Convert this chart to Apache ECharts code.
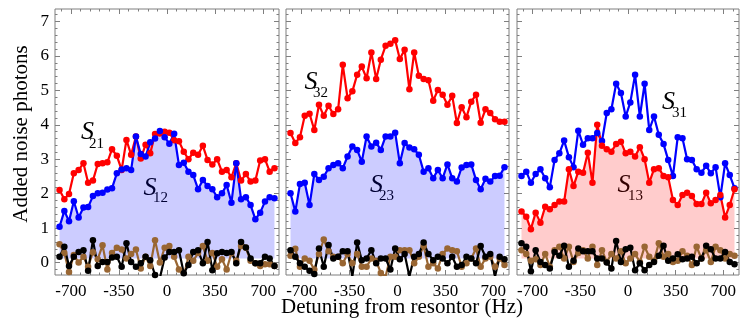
<!DOCTYPE html>
<html><head><meta charset="utf-8">
<script src="https://cdn.jsdelivr.net/npm/echarts@6/dist/echarts.min.js"></script>
<style>html,body{margin:0;padding:0;background:#fff}#c{width:740px;height:322px}</style>
</head><body><div id="c"></div>
<script>
// Detuning (Hz) of each measured point, shared by all three panels
const detuning = [-782,-747,-713,-678,-643,-608,-574,-539,-504,-469,-434,-400,-365,-330,-295,-261,-226,-191,-156,-122,-87,-52,-17,17,52,87,122,156,191,226,261,295,330,365,400,434,469,504,539,574,608,643,678,713,747,782];

// Panel 1
const s21 = [2.11,1.84,1.99,2.59,2.69,2.88,2.32,2.38,2.86,2.88,2.91,3.29,3.10,2.69,3.56,3.13,3.66,3.02,3.42,3.17,3.73,3.75,3.80,3.77,3.55,3.52,3.22,3.00,3.19,3.13,3.39,2.98,2.85,3.00,2.64,2.69,2.48,2.88,2.38,2.57,2.35,2.38,2.96,3.00,2.64,2.74];
const s12 = [1.04,1.50,1.20,1.78,1.31,1.60,1.61,1.93,2.01,2.03,2.12,2.16,2.59,2.70,2.74,2.69,3.66,3.15,3.08,3.49,3.60,3.82,3.64,3.45,3.74,2.83,2.90,2.64,2.54,2.13,2.40,2.22,2.13,1.90,2.01,2.25,1.74,2.88,1.84,1.90,1.67,1.26,1.45,1.77,1.90,1.87];
const black1 = [0.17,0.46,-0.10,0.17,0.31,0.36,-0.24,0.65,-0.10,0.02,0.02,0.15,0.17,-0.12,0.56,0.02,-0.12,-0.02,0.17,0.07,-0.36,-0.45,0.15,0.31,0.31,0.36,-0.31,-0.07,0.31,0.36,-0.02,0.60,-0.22,0.27,0.31,0.28,0.31,-0.02,0.60,0.44,0.12,-0.02,-0.02,0.17,0.12,-0.10];
const brown1 = [0.53,0.28,-0.27,0.22,0.00,0.17,-0.12,0.30,0.10,0.50,-0.20,0.28,0.43,0.38,0.12,0.25,0.38,-0.17,0.17,-0.10,0.65,0.00,0.43,0.48,0.17,-0.20,-0.40,0.17,0.05,0.28,0.48,0.05,0.28,-0.12,0.10,-0.20,0.28,0.05,0.48,0.43,0.05,-0.02,-0.10,-0.05,-0.05,-0.10];

// Panel 2
const s32 = [3.76,3.47,3.64,4.26,4.32,3.85,4.58,4.26,4.55,4.31,4.45,5.74,4.77,4.97,5.45,5.69,5.35,6.10,5.33,5.89,6.29,6.35,6.45,5.91,6.18,5.03,6.10,5.42,5.33,5.29,4.70,5.01,4.87,4.58,4.84,4.05,4.51,4.22,4.67,4.87,4.06,4.45,4.34,4.16,4.09,4.09];
const s23 = [2.01,1.48,2.28,2.32,1.67,2.57,2.40,2.49,2.74,2.83,2.88,2.74,3.08,3.37,3.27,2.93,3.66,3.37,3.48,3.27,3.66,3.66,3.77,2.88,3.47,3.34,3.29,3.13,2.64,2.74,2.45,2.69,2.45,2.85,2.45,2.35,2.76,2.83,2.85,2.40,2.13,2.43,2.35,2.51,2.52,2.77];
const black2 = [0.36,0.17,-0.02,-0.12,-0.24,-0.33,0.41,-0.12,0.51,0.12,0.17,0.33,0.33,-0.40,0.58,0.07,0.12,0.36,-0.02,0.12,0.12,-0.20,0.41,0.10,0.25,-0.40,0.17,0.25,0.58,0.25,0.07,0.17,0.12,-0.02,0.17,-0.12,-0.07,0.17,0.12,-0.02,0.48,0.17,0.25,-0.40,0.17,0.10];
const brown2 = [0.20,0.40,-0.12,0.12,0.05,-0.20,0.25,0.67,0.33,0.17,0.17,-0.02,0.25,-0.02,0.25,-0.12,-0.12,0.12,0.05,-0.30,-0.40,0.17,0.17,0.36,0.36,0.36,-0.02,0.17,0.48,-0.12,-0.02,-0.17,0.25,0.41,0.36,0.33,-0.12,-0.02,0.12,0.41,-0.12,0.12,0.17,-0.12,0.12,-0.07];

// Panel 3
const s31 = [2.51,2.64,2.32,2.57,2.71,2.45,2.19,2.98,3.17,3.54,3.06,2.77,3.83,3.42,3.61,3.61,3.76,3.53,4.34,4.45,5.19,4.92,4.24,4.65,5.45,4.24,5.19,3.85,4.24,3.71,3.44,2.98,2.51,3.64,3.61,3.00,2.98,2.71,2.61,2.81,2.59,2.77,1.90,2.88,2.54,2.16];
const s13 = [1.48,1.33,0.97,1.45,1.16,1.62,1.55,1.67,1.77,1.77,2.71,2.22,2.64,2.61,3.19,2.32,4.00,3.39,3.29,3.22,3.44,3.51,3.17,3.22,3.08,3.35,3.00,2.32,2.71,2.74,2.51,2.48,1.82,1.67,1.96,2.03,1.93,1.70,1.70,2.03,1.72,1.82,1.96,1.31,1.67,2.13];
const black3 = [0.56,0.46,-0.25,0.36,0.02,-0.07,-0.17,0.31,0.20,0.49,-0.12,0.05,0.41,0.33,0.33,0.33,0.12,0.12,0.00,-0.17,0.63,0.02,0.39,0.43,-0.22,-0.02,-0.22,-0.07,0.02,0.20,0.49,0.05,0.12,0.24,0.10,0.12,0.17,-0.02,0.12,0.49,0.39,0.12,0.12,0.31,0.02,-0.05];
const brown3 = [0.36,0.25,0.05,0.10,-0.07,0.25,-0.12,0.36,0.46,0.12,0.46,0.02,0.28,0.36,0.12,0.46,-0.07,0.36,0.02,0.25,0.12,0.33,-0.02,0.12,0.25,0.02,0.46,0.17,0.05,0.56,0.17,0.25,0.02,0.05,0.33,0.20,-0.07,0.46,0.12,0.36,0.02,0.46,0.36,0.12,0.25,0.20];

// Tick labels
const xTicks = [-700,-350,0,350,700];
const yTicks = [0,1,2,3,4,5,6,7];
const fillBase = 0.12;

const xMinor = [];
for (let v = -770; v <= 770; v += 70) if (xTicks.indexOf(v) < 0) xMinor.push(v);
const yMinor = [];
for (let k = -1; k <= 36; k++) { if (k % 5 !== 0) yMinor.push(+(k * 0.2).toFixed(2)); }

const panels = [
  {left:55, width:224, black:black1, brown:brown1, lines:[{d:s21,c:'#ff0000'},{d:s12,c:'#0000ff'}], fill:{d:s12,c:'rgba(0,0,255,0.2)'}},
  {left:286, width:223, black:black2, brown:brown2, lines:[{d:s32,c:'#ff0000'},{d:s23,c:'#0000ff'}], fill:{d:s23,c:'rgba(0,0,255,0.2)'}},
  {left:517, width:222, black:black3, brown:brown3, lines:[{d:s31,c:'#0000ff'},{d:s13,c:'#ff0000'}], fill:{d:s13,c:'rgba(255,0,0,0.2)'}}
];
const TOP = 9, H = 266;
const xMin = -815, xMax = 815, yMin = -0.36, yMax = 7.36;
const frame = '#7f7f7f';
const serif = 'Liberation Serif';

const option = {animation:false, grid:[], xAxis:[], yAxis:[], series:[], graphic:{elements:[]}};
const pairs = arr => detuning.map((x, k) => [x, arr[k]]);

panels.forEach((p, i) => {
  option.grid.push({left:p.left, top:TOP, width:p.width, height:H, show:true, borderColor:frame, borderWidth:1, backgroundColor:'rgba(0,0,0,0)'});
  const xi = option.xAxis.length, yi = option.yAxis.length;
  const mkX = (pos, vals, len, lab) => ({type:'value', gridIndex:i, position:pos, min:xMin, max:xMax,
    axisLine:{show:false, onZero:false}, splitLine:{show:false},
    axisTick:{show:true, inside:true, length:len, customValues:vals, lineStyle:{color:frame, width:1}},
    axisLabel: lab ? {show:true, customValues:xTicks, color:'#000', fontFamily:serif, fontSize:17, margin:8} : {show:false}});
  const mkY = (pos, vals, len, lab) => ({type:'value', gridIndex:i, position:pos, min:yMin, max:yMax,
    axisLine:{show:false, onZero:false}, splitLine:{show:false},
    axisTick:{show:true, inside:true, length:len, customValues:vals, lineStyle:{color:frame, width:1}},
    axisLabel: lab ? {show:true, customValues:yTicks, color:'#000', fontFamily:serif, fontSize:17, margin:6} : {show:false}});
  option.xAxis.push(mkX('bottom', xTicks, 5, true), mkX('bottom', xMinor, 2.5, false), mkX('top', xTicks, 5, false), mkX('top', xMinor, 2.5, false));
  option.yAxis.push(mkY('left', yTicks, 5, i === 0), mkY('left', yMinor, 2.5, false), mkY('right', yTicks, 5, false), mkY('right', yMinor, 2.5, false));

  const base = {type:'line', xAxisIndex:xi, yAxisIndex:yi, symbol:'circle', symbolSize:6.5, clip:true, silent:true};
  option.series.push(Object.assign({}, base, {data:pairs(p.brown), itemStyle:{color:'#996633'}, lineStyle:{color:'#996633', width:2.2}}));
  option.series.push(Object.assign({}, base, {data:pairs(p.black), itemStyle:{color:'#000'}, lineStyle:{color:'#000', width:2.2}}));
  option.series.push({type:'line', xAxisIndex:xi, yAxisIndex:yi, data:pairs(p.fill.d), symbol:'none', silent:true,
    lineStyle:{width:0, opacity:0}, areaStyle:{color:p.fill.c, opacity:1, origin:fillBase}});
  p.lines.forEach(l => option.series.push(Object.assign({}, base, {data:pairs(l.d), itemStyle:{color:l.c}, lineStyle:{color:l.c, width:2.2}})));
});

const txt = (t, x, y, size, italic, extra) => Object.assign({type:'text', x:x, y:y, silent:true,
  style:{text:t, fill:'#000', font:(italic ? 'italic ' : '') + size + 'px "' + serif + '"', textAlign:'center', textVerticalAlign:'middle', align:'center', verticalAlign:'middle'}}, extra || {});
const labels = [
  ['21', 87.5, 132.5, 96.5, 144.5],
  ['12', 150, 188.3, 160.5, 198],
  ['32', 311, 81.7, 320.5, 93.5],
  ['23', 376.5, 185, 386.5, 196.5],
  ['31', 668.5, 101.7, 679.5, 113],
  ['13', 624, 185, 635.5, 196.5]
];
labels.forEach(l => {
  option.graphic.elements.push(txt('S', l[1], l[2], 26, true));
  option.graphic.elements.push(txt(l[0], l[3], l[4], 15, false));
});
option.graphic.elements.push(txt('Detuning from resontor (Hz)', 402, 307, 21, false));
option.graphic.elements.push(txt('Added noise photons', 21, 134, 21, false, {rotation: Math.PI / 2}));

const chart = echarts.init(document.getElementById('c'), null, {renderer:'canvas'});
chart.setOption(option);
</script></body></html>
